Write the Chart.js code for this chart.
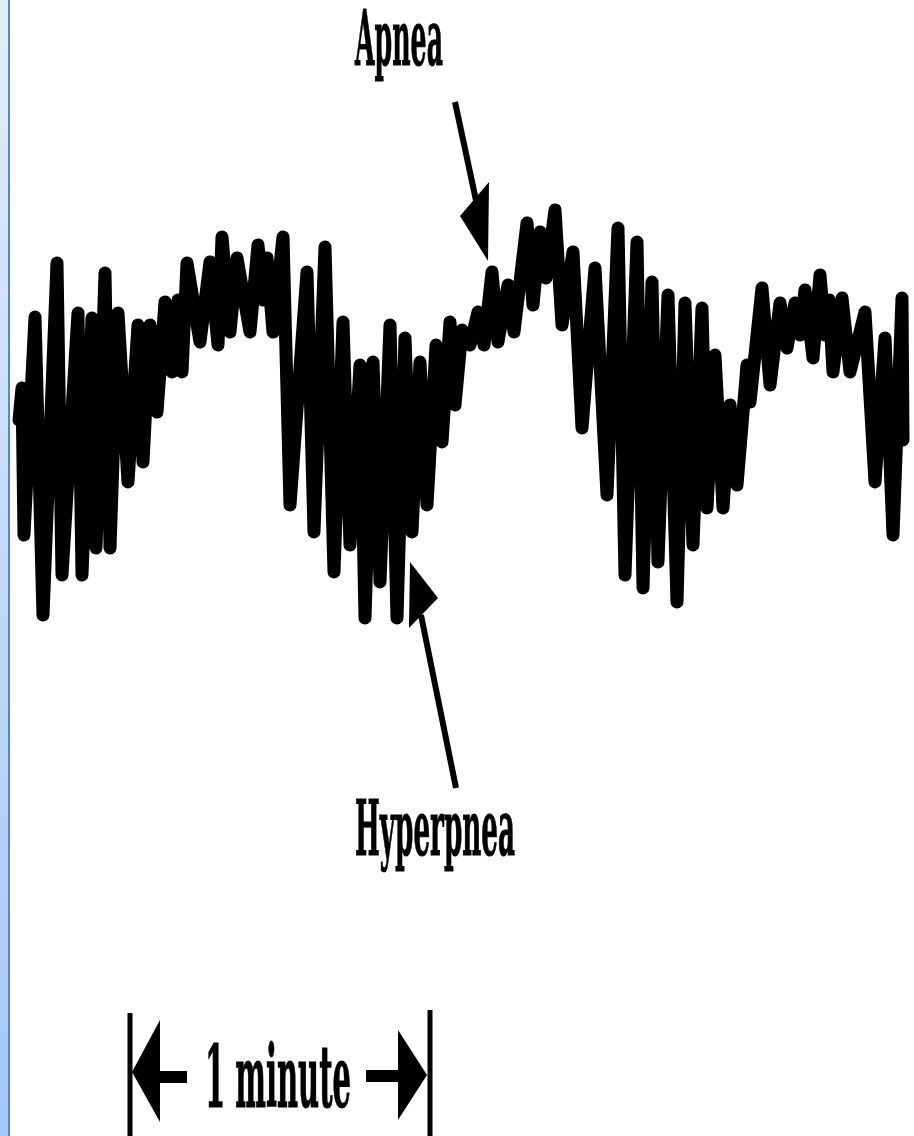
<!DOCTYPE html>
<html>
<head>
<meta charset="utf-8">
<script src="https://cdn.jsdelivr.net/npm/chart.js@4.4.1/dist/chart.umd.min.js"></script>
<style>
  html, body { margin: 0; padding: 0; background: #fff; }
  #wrap { position: relative; width: 914px; height: 1136px; }
  #edge { position: absolute; left: 0; top: 0; width: 8px; height: 1136px;
          background: linear-gradient(#e2ecfb, #a6c6f6); border-right: 2px solid #5b86cf; }
</style>
</head>
<body>
<div id="wrap">
  <canvas id="breathChart" width="914" height="1136"></canvas>
  <div id="edge"></div>
</div>
<script>
// breathing trace (time in s, amplitude in arbitrary units)
const timeSec = [0.2,0.8,1.2,3.4,5.0,7.8,8.8,12.0,12.8,14.8,15.6,17.4,18.4,20.0,22.0,24.0,25.0,26.4,27.8,29.4,
  30.8,32.0,32.8,33.8,36.4,38.4,40.0,40.8,42.4,43.8,46.4,48.0,49.0,49.8,51.0,53.0,54.4,57.8,59.2,61.4,
  63.2,65.0,66.4,68.4,69.4,71.0,72.4,74.4,75.8,77.4,78.8,80.4,81.8,83.6,84.8,86.4,87.4,88.8,90.4,92.0,
  93.2,94.8,96.0,98.0,99.2,101.8,103.0,104.4,105.6,107.4,108.8,111.0,112.8,115.4,117.8,120.0,121.4,123.8,125.0,126.8,
  128.0,130.0,131.8,133.4,135.0,136.8,137.8,139.4,141.0,142.4,143.8,145.8,146.4,148.8,150.4,152.4,153.8,155.4,156.4,157.4,
  159.0,160.4,161.4,162.2,163.0,164.8,166.4,169.4,171.4,173.4,175.0,176.8,177.0];
const amplitude = [0,3.2,-11.5,10.3,-19.5,15.7,-15.5,10.7,-15.5,10.2,-12.8,14.7,-12.8,10.7,-6.2,9.5,-4.2,9.5,0.8,11.8,
  4.8,12.0,4.8,15.7,7.8,15.8,7.5,18.3,8.8,16.2,8.8,17.5,12.0,16.2,8.8,18.3,-8.5,14.8,-11.2,17.3,
  -15.2,9.8,-12.5,5.5,-19.8,5.8,-16.2,9.5,-19.8,8.2,-11.2,5.8,-8.5,7.5,-2.2,9.8,1.5,9.0,7.5,10.8,
  7.5,14.8,7.8,13.5,8.8,19.7,11.5,18.8,14.2,21.0,9.5,16.8,-0.8,15.2,-7.5,19.2,-15.5,17.8,-16.8,13.8,
  -14.2,12.5,-18.2,11.7,-12.5,11.2,-8.8,6.5,-8.8,1.5,-6.5,5.5,1.8,13.2,3.5,11.7,7.2,11.7,8.5,13.0,
  6.2,14.5,8.5,12.0,4.8,12.2,4.8,10.8,-6.2,8.2,-11.5,12.2,-2.0];

// scale bar: one minute
const minuteStart = 22.4;
const minuteEnd = 82.4;

const labelApnea = 'Apnea';
const labelHyperpnea = 'Hyperpnea';
const labelMinute = '1 minute';

function fitText(ctx, text, left, baseline, width, capH) {
  ctx.font = 'bold 40px "DejaVu Serif"';
  const w = ctx.measureText(text).width;
  const a = ctx.measureText('H').actualBoundingBoxAscent;
  ctx.save();
  ctx.translate(left, baseline);
  ctx.scale(width / w, capH / a);
  ctx.textBaseline = 'alphabetic';
  ctx.textAlign = 'left';
  ctx.fillStyle = '#000';
  ctx.strokeStyle = '#000';
  ctx.lineWidth = 0.5;
  ctx.fillText(text, 0, 0);
  ctx.strokeText(text, 0, 0);
  ctx.restore();
}

function tri(ctx, pts) {
  ctx.beginPath();
  ctx.moveTo(pts[0][0], pts[0][1]);
  ctx.lineTo(pts[1][0], pts[1][1]);
  ctx.lineTo(pts[2][0], pts[2][1]);
  ctx.closePath();
  ctx.fill();
}

const notes = {
  id: 'notes',
  afterDraw(chart) {
    const ctx = chart.ctx;
    const x = chart.scales.x;
    ctx.save();
    ctx.fillStyle = '#000';
    ctx.strokeStyle = '#000';

    fitText(ctx, labelApnea, 355, 65, 88, 55);
    fitText(ctx, labelHyperpnea, 355, 855, 160, 55);

    // apnea arrow
    ctx.lineWidth = 6;
    ctx.beginPath(); ctx.moveTo(455, 102); ctx.lineTo(477, 205); ctx.stroke();
    tri(ctx, [[460, 216], [489, 182], [488, 261]]);

    // hyperpnea arrow
    ctx.beginPath(); ctx.moveTo(456, 788); ctx.lineTo(421, 615); ctx.stroke();
    tri(ctx, [[410, 562], [438, 598], [409, 628]]);

    // one-minute bar
    const x0 = x.getPixelForValue(minuteStart);
    const x1 = x.getPixelForValue(minuteEnd);
    ctx.lineWidth = 5;
    ctx.beginPath(); ctx.moveTo(x0, 1013); ctx.lineTo(x0, 1136); ctx.stroke();
    ctx.beginPath(); ctx.moveTo(x1, 1010); ctx.lineTo(x1, 1136); ctx.stroke();
    tri(ctx, [[x0 + 2, 1072], [x0 + 30, 1020], [x0 + 30, 1122]]);
    ctx.fillRect(x0 + 28, 1071, 29, 12);
    tri(ctx, [[x1 - 3, 1075], [x1 - 32, 1030], [x1 - 32, 1120]]);
    ctx.fillRect(x1 - 64, 1070, 34, 12);
    fitText(ctx, labelMinute, 205, 1107, 146, 62);

    ctx.restore();
  }
};

const points = timeSec.map((t, i) => ({ x: t, y: amplitude[i] }));

new Chart(document.getElementById('breathChart'), {
  type: 'line',
  data: {
    datasets: [{
      label: 'Respiration',
      data: points,
      borderColor: '#000',
      borderWidth: 13,
      borderJoinStyle: 'round',
      borderCapStyle: 'round',
      pointRadius: 0,
      tension: 0,
      fill: false
    }]
  },
  options: {
    responsive: false,
    animation: false,
    layout: { padding: 0 },
    plugins: { legend: { display: false }, tooltip: { enabled: false } },
    scales: {
      x: { type: 'linear', min: -3.6, max: 179.2, display: false },
      y: { min: -71.6, max: 42, display: false }
    }
  },
  plugins: [notes]
});
</script>
</body>
</html>
